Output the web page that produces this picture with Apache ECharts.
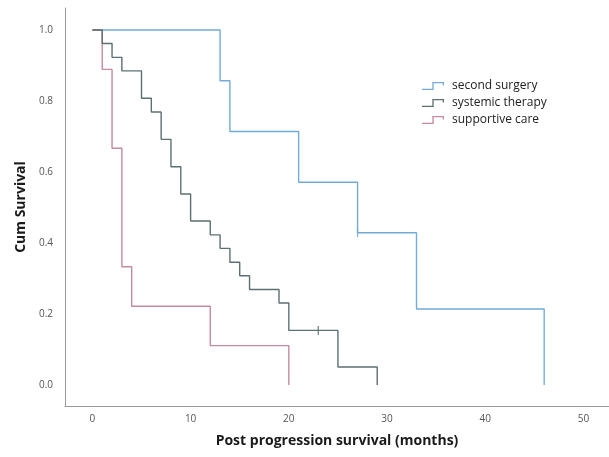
<!DOCTYPE html>
<html>
<head>
<meta charset="utf-8">
<script src="https://cdn.jsdelivr.net/npm/echarts@6/dist/echarts.min.js"></script>
<style>
html,body{margin:0;padding:0;background:#fff;}
#chart{width:609px;height:457px;}
</style>
</head>
<body>
<div id="chart"></div>
<script>
// ---- data ----
var seriesNames = ['second surgery', 'systemic therapy', 'supportive care'];

var surgeryTimes = [0, 13, 14, 21, 27, 33, 46];
var surgerySurv  = [1, 0.857, 0.714, 0.571, 0.429, 0.214, 0];
var surgeryCensorTimes = [27];
var surgeryCensorSurv  = [0.429];

var systemicTimes = [0, 1, 2, 3, 5, 6, 7, 8, 9, 10, 12, 13, 14, 15, 16, 19, 20, 25, 29];
var systemicSurv  = [1, 0.962, 0.923, 0.885, 0.808, 0.769, 0.692, 0.615, 0.538, 0.462, 0.423, 0.385, 0.346, 0.308, 0.269, 0.231, 0.154, 0.051, 0];
var systemicCensorTimes = [23];
var systemicCensorSurv  = [0.154];

var supportiveTimes = [0, 1, 2, 3, 4, 12, 20];
var supportiveSurv  = [1, 0.889, 0.667, 0.333, 0.222, 0.111, 0];

var xTicks = [0, 10, 20, 30, 40, 50];
var yTicks = [0, 0.2, 0.4, 0.6, 0.8, 1.0];

// ---- chart ----
function pairs(t, s) { return t.map(function (v, i) { return [v, s[i]]; }); }

var colors = {
  'second surgery': '#72acd6',
  'systemic therapy': '#5c7070',
  'supportive care': '#c48c9e'
};

var stepIcon = 'path://M0,6.7 L10.35,6.7 L10.35,0 L22,0 L22,3.5 L20.7,3.5 L20.7,1.3 L11.65,1.3 L11.65,8 L0,8 Z';

var chart = echarts.init(document.getElementById('chart'), null, {renderer: 'canvas'});

function kmLine(name, t, s, z) {
  return {
    name: name, type: 'line', step: 'end', symbol: 'none', z: z,
    data: pairs(t, s),
    lineStyle: {color: colors[name], width: 1.4},
    itemStyle: {color: colors[name]},
    animation: false
  };
}
function censor(name, t, s, z) {
  return {
    name: name + ' censored', type: 'scatter', z: z,
    symbol: 'rect', symbolSize: [1.4, 9],
    data: pairs(t, s),
    itemStyle: {color: colors[name]},
    animation: false, silent: true
  };
}

var option = {
  backgroundColor: '#ffffff',
  animation: false,
  grid: {left: 65, right: 0, top: 8, bottom: 51, containLabel: false},
  xAxis: {
    type: 'value', min: -2.79, max: 52.6,
    name: 'Post progression survival (months)',
    nameLocation: 'middle', nameGap: 28,
    nameTextStyle: {fontFamily: 'Open Sans', fontWeight: 'bold', fontSize: 14, color: '#1a1a1a'},
    axisLine: {show: true, onZero: false, lineStyle: {color: '#9a9a9a', width: 1}},
    axisTick: {show: false},
    splitLine: {show: false},
    axisLabel: {customValues: xTicks, fontFamily: 'Open Sans', fontSize: 10, color: '#555', margin: 8}
  },
  yAxis: {
    type: 'value', min: -0.059, max: 1.062,
    name: 'Cum Survival',
    nameLocation: 'middle', nameGap: 31,
    nameTextStyle: {fontFamily: 'Open Sans', fontWeight: 'bold', fontSize: 14, color: '#1a1a1a'},
    axisLine: {show: true, onZero: false, lineStyle: {color: '#9a9a9a', width: 1}},
    axisTick: {show: false},
    splitLine: {show: false},
    axisLabel: {customValues: yTicks, fontFamily: 'Open Sans', fontSize: 10, color: '#555', margin: 12,
      formatter: function (v) { return v.toFixed(1); }}
  },
  legend: {
    orient: 'vertical', left: 422, top: 80, itemGap: 5, padding: 0,
    itemWidth: 22, itemHeight: 8,
    data: seriesNames.map(function (n) {
      return {name: n, icon: stepIcon, itemStyle: {color: colors[n], borderWidth: 0}};
    }),
    textStyle: {fontFamily: 'Open Sans', fontSize: 12, color: '#222', padding: [0, 0, 0, 3]}
  },
  series: [
    kmLine('second surgery', surgeryTimes, surgerySurv, 2),
    kmLine('supportive care', supportiveTimes, supportiveSurv, 3),
    kmLine('systemic therapy', systemicTimes, systemicSurv, 4),
    censor('second surgery', surgeryCensorTimes, surgeryCensorSurv, 5),
    censor('systemic therapy', systemicCensorTimes, systemicCensorSurv, 5)
  ]
};
chart.setOption(option);
</script>
</body>
</html>
